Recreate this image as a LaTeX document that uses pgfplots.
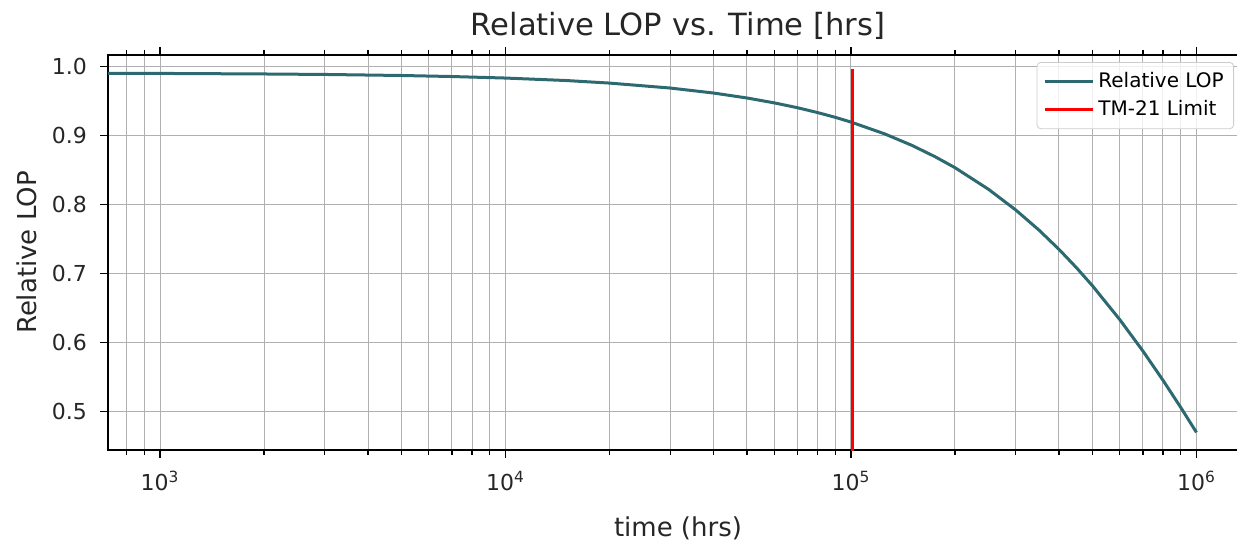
\documentclass[border=0pt]{standalone}
\usepackage{pgfplots}
\pgfplotsset{compat=1.18}
\usepackage{fontspec}
\setmainfont{DejaVu Sans}
\definecolor{lopcol}{RGB}{45,105,112}
\definecolor{gridgray}{RGB}{176,176,176}
\begin{document}
\begin{tikzpicture}
\begin{axis}[name=ax, scale only axis, width=570pt, height=197.5pt,
  xmode=log, log basis x=10,
  xmin=707, xmax=1.41e6, ymin=0.4445, ymax=1.017,
  xtick={1000,10000,100000,1000000},
  xticklabels={10\textsuperscript{3},10\textsuperscript{4},10\textsuperscript{5},10\textsuperscript{6}},
  minor xtick={800,900,2000,3000,4000,5000,6000,7000,8000,9000,20000,30000,40000,50000,60000,70000,80000,90000,200000,300000,400000,500000,600000,700000,800000,900000},
  ytick={0.5,0.6,0.7,0.8,0.9,1.0},
  /pgf/number format/fixed, /pgf/number format/fixed zerofill, /pgf/number format/precision=1,
  /pgf/number format/assume math mode=true,
  tick label style={font=\fontsize{11}{13}\selectfont, text=black!85},
  yticklabel style={xshift=-3pt},
  xticklabel style={yshift=-3pt},
  tick align=outside, major tick length=4pt, minor tick length=2.5pt,
  tick style={black, line width=0.6pt},
  axis line style={black, line width=0.8pt},
  grid=both,
  major grid style={gridgray, line width=0.5pt},
  minor grid style={gridgray, line width=0.5pt},
  title={Relative LOP vs. Time [hrs]},
  title style={at={(axis description cs:0.5,1)}, anchor=base, yshift=4pt, font=\fontsize{15.3}{18}\selectfont, text=black!85},
  xlabel={time (hrs)},
  xlabel style={at={(axis description cs:0.5,0)}, anchor=base, yshift=-43pt, font=\fontsize{13}{16}\selectfont, text=black!85},
  ylabel={Relative LOP},
  ylabel style={at={(axis description cs:-0.071,0.5)}, anchor=center, font=\fontsize{13}{16}\selectfont, text=black!85},
  legend style={at={(axis description cs:1,1)}, anchor=north east, xshift=-7pt, yshift=-3.5pt,
    font=\fontsize{10}{12}\selectfont, draw=gray!40, rounded corners=2pt, fill=white, fill opacity=0.8, text opacity=1,
    row sep=1pt, inner sep=3pt},
  legend cell align=left,
  legend image code/.code={\draw[#1] (0cm,0cm) -- (0.85cm,0cm);},
]
\addplot[lopcol, line width=1.5pt] coordinates {
(700,0.9905) (1000,0.9903) (2000,0.9895) (3000,0.9888) (5000,0.9873) (7000,0.9858)
(10000,0.9836) (15000,0.9800) (20000,0.9763) (30000,0.9691) (40000,0.9619) (50000,0.9547)
(60000,0.9476) (70000,0.9406) (80000,0.9336) (90000,0.9267) (100000,0.9198) (125000,0.9028)
(150000,0.8861) (175000,0.8697) (200000,0.8537) (250000,0.8224) (300000,0.7923) (350000,0.7633)
(400000,0.7353) (450000,0.7084) (500000,0.6825) (600000,0.6334) (700000,0.5879) (800000,0.5456)
(900000,0.5064) (1000000,0.4700)
};
\addlegendentry{Relative LOP}
\addplot[red, line width=1.5pt] coordinates {(101000,0.40) (101000,0.996)};
\addlegendentry{TM-21 Limit}
\end{axis}
\pgfresetboundingbox
\path[use as bounding box] ([xshift=-54pt,yshift=-45pt]ax.south west) rectangle ([xshift=-5.5pt,yshift=27.5pt]ax.north east);
\end{tikzpicture}
\end{document}
